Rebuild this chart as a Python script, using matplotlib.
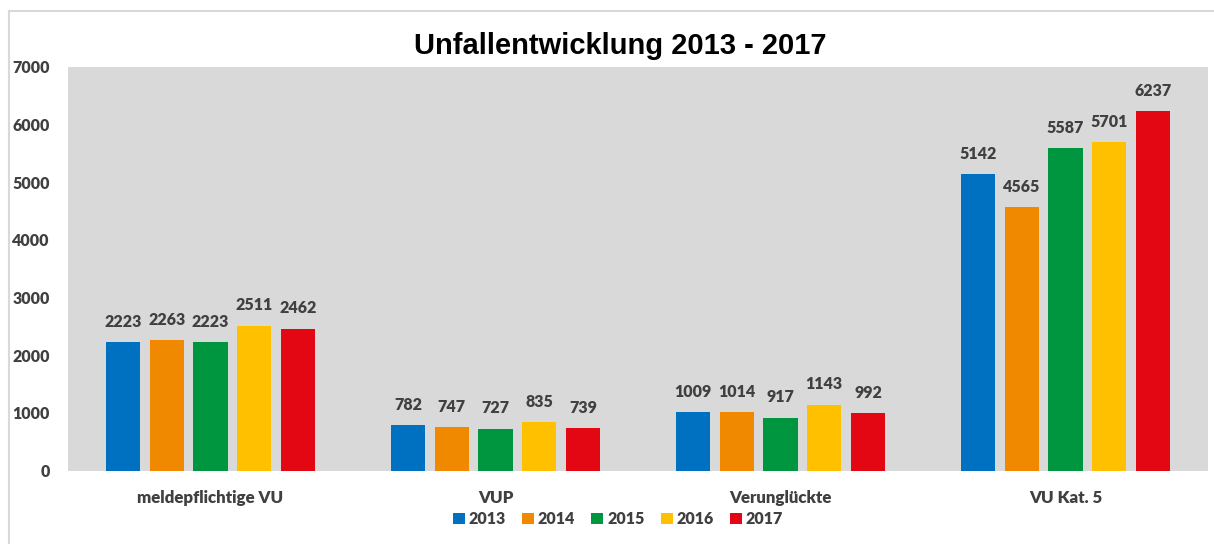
import numpy as np
import matplotlib.pyplot as plt
from matplotlib.lines import Line2D

# Data

categories = ["meldepflichtige VU", "VUP", "Verunglückte", "VU Kat. 5"]
years = ["2013", "2014", "2015", "2016", "2017"]
values = {
    "2013": [2223, 782, 1009, 5142],
    "2014": [2263, 747, 1014, 4565],
    "2015": [2223, 727, 917, 5587],
    "2016": [2511, 835, 1143, 5701],
    "2017": [2462, 739, 992, 6237],
}
colors = ["#0070C0", "#F08800", "#00953F", "#FFC000", "#E30613"]

text_color = "#404040"
font = "Lato"
fw = "heavy"

fig = plt.figure(figsize=(12.14, 5.44), dpi=100)
ax = fig.add_axes([68 / 1214, 1 - 470.5 / 544, 1140 / 1214, 403.5 / 544])
ax.set_facecolor("#d9d9d9")

x = np.arange(len(categories))
step = 0.1535
width = 0.12

for i, (year, col) in enumerate(zip(years, colors)):
    pos = x + (i - 2) * step
    bars = ax.bar(pos, values[year], width, color=col, label=year, zorder=2)
    for b, v in zip(bars, values[year]):
        ax.annotate(str(v), (b.get_x() + b.get_width() / 2, v),
                    xytext=(0, 11), textcoords="offset points",
                    ha="center", va="baseline", fontsize=11.5,
                    fontweight=fw, color=text_color, family=font)

ax.set_xlim(-0.5, 3.5)
ax.set_ylim(0, 7000)
ax.set_yticks(np.arange(0, 7001, 1000))
ax.set_xticks(x)
ax.set_xticklabels(categories)
ax.tick_params(axis="both", length=0)
ax.tick_params(axis="y", pad=13)
ax.tick_params(axis="x", pad=14)
for lab in ax.get_yticklabels():
    lab.set_fontsize(11.5)
for lab in ax.get_xticklabels():
    lab.set_fontsize(12.2)
for lab in ax.get_xticklabels() + ax.get_yticklabels():
    lab.set_fontweight(fw)
    lab.set_color(text_color)
    lab.set_family(font)
for s in ax.spines.values():
    s.set_visible(False)

fig.text(0.511, 1 - 46 / 544, "Unfallentwicklung 2013 - 2017", ha="center",
         va="center", fontsize=21, fontweight="bold", family="Liberation Sans")

leg = fig.legend(loc="center", bbox_to_anchor=(0.509, 1 - 519 / 544), ncol=5,
                 frameon=False, handlelength=0.75, handleheight=0.75,
                 handletextpad=0.25, columnspacing=1.0,
                 prop={"family": font, "weight": fw, "size": 11.5})
for t in leg.get_texts():
    t.set_color(text_color)

# outer frame
fig.add_artist(Line2D([9 / 1214, 9 / 1214], [0, 1 - 11 / 544],
                      transform=fig.transFigure, color="#d9d9d9", lw=1.5))
fig.add_artist(Line2D([9 / 1214, 1], [1 - 11 / 544, 1 - 11 / 544],
                      transform=fig.transFigure, color="#d9d9d9", lw=1.5))

fig.savefig("out.png", dpi=100)
